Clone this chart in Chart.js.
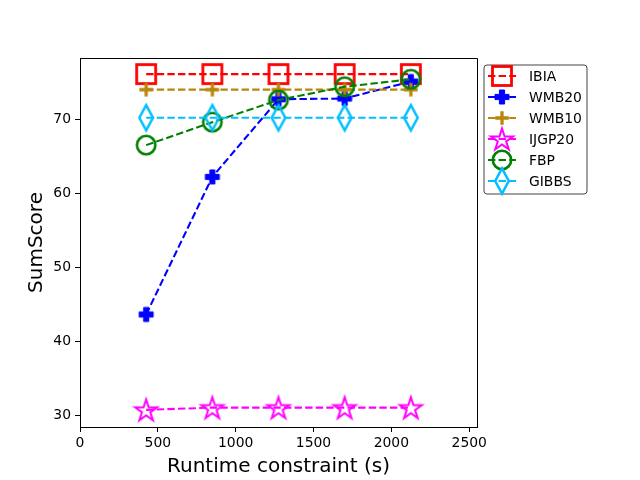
<!DOCTYPE html>
<html>
<head>
<meta charset="utf-8">
<script src="https://cdn.jsdelivr.net/npm/chart.js@4.4.0/dist/chart.umd.min.js"></script>
<style>
html,body{margin:0;padding:0;background:#fff;}
#wrap{width:640px;height:480px;}
</style>
</head>
<body>
<div id="wrap"><canvas id="c" width="640" height="480"></canvas></div>
<script>
// ---- data ----
const runtimes = [425, 850, 1275, 1700, 2125];
const seriesNames = ["IBIA", "WMB20", "WMB10", "IJGP20", "FBP", "GIBBS"];
const ibia   = [76.1, 76.1, 76.1, 76.1, 76.1];
const wmb20  = [43.6, 62.2, 72.7, 72.8, 75.1];
const wmb10  = [74.0, 74.0, 74.0, 74.0, 74.0];
const ijgp20 = [30.7, 31.0, 31.0, 31.0, 31.0];
const fbp    = [66.5, 69.6, 72.6, 74.4, 75.4];
const gibbs  = [70.2, 70.2, 70.2, 70.2, 70.2];
const xTicks = [0, 500, 1000, 1500, 2000, 2500];
const yTicks = [30, 40, 50, 60, 70];

// ---- marker styles ----
function mk(size, draw) {
  const c = document.createElement('canvas');
  c.width = size; c.height = size;
  const g = c.getContext('2d');
  g.translate(size / 2, size / 2);
  draw(g);
  return c;
}
const mSquare = mk(28, g => { g.strokeStyle = '#ff0000'; g.lineWidth = 2.8; g.strokeRect(-9.5, -9.5, 19, 19); });
const mPlusFilled = mk(22, g => {
  g.fillStyle = '#0000ff'; g.strokeStyle = '#0000ff'; g.lineWidth = 1;
  const a = 7, t = 2.6;
  g.beginPath();
  g.moveTo(-t, -a); g.lineTo(t, -a); g.lineTo(t, -t); g.lineTo(a, -t); g.lineTo(a, t); g.lineTo(t, t);
  g.lineTo(t, a); g.lineTo(-t, a); g.lineTo(-t, t); g.lineTo(-a, t); g.lineTo(-a, -t); g.lineTo(-t, -t);
  g.closePath(); g.fill(); g.stroke();
});
const mPlus = mk(20, g => {
  g.strokeStyle = '#b8860b'; g.lineWidth = 3.3; g.lineCap = 'butt';
  g.beginPath(); g.moveTo(-6.8, 0); g.lineTo(6.8, 0); g.moveTo(0, -6.8); g.lineTo(0, 6.8); g.stroke();
});
const mStar = mk(30, g => {
  g.strokeStyle = '#ff00ff'; g.lineWidth = 2; g.lineJoin = 'miter';
  const R = 11.5, r = R * 0.381966;
  g.beginPath();
  for (let i = 0; i < 10; i++) {
    const ang = -Math.PI / 2 + i * Math.PI / 5;
    const rr = i % 2 === 0 ? R : r;
    const px = rr * Math.cos(ang), py = rr * Math.sin(ang) + 1;
    if (i === 0) g.moveTo(px, py); else g.lineTo(px, py);
  }
  g.closePath(); g.stroke();
});
const mCircle = mk(26, g => { g.strokeStyle = '#008000'; g.lineWidth = 2.6; g.beginPath(); g.arc(0, 0, 9.2, 0, Math.PI * 2); g.stroke(); });
const mDiamond = mk(32, g => {
  g.strokeStyle = '#00bfff'; g.lineWidth = 2.5; g.lineJoin = 'miter';
  g.beginPath(); g.moveTo(0, -12.7); g.lineTo(6.8, 0); g.lineTo(0, 12.7); g.lineTo(-6.8, 0); g.closePath(); g.stroke();
});

const seriesValues = [ibia, wmb20, wmb10, ijgp20, fbp, gibbs];
const seriesColors = ['#ff0000', '#0000ff', '#b8860b', '#ff00ff', '#008000', '#00bfff'];
const seriesMarkers = [mSquare, mPlusFilled, mPlus, mStar, mCircle, mDiamond];
const DASH = [7.4, 3.2];

const datasets = seriesNames.map((name, i) => ({
  label: name,
  data: runtimes.map((x, j) => ({ x: x, y: seriesValues[i][j] })),
  borderColor: seriesColors[i],
  backgroundColor: seriesColors[i],
  borderWidth: 2.08,
  borderDash: DASH,
  pointStyle: seriesMarkers[i],
  pointRadius: 10,
  pointHoverRadius: 10,
  fill: false,
  tension: 0,
  order: seriesNames.length - i,
  clip: false
}));

const FONT = "'DejaVu Sans', 'Liberation Sans', sans-serif";

const spinesPlugin = {
  id: 'spines',
  afterDraw(chart) {
    const ctx = chart.ctx, ca = chart.chartArea;
    ctx.save();
    ctx.strokeStyle = '#000'; ctx.lineWidth = 1;
    ctx.beginPath();
    ctx.moveTo(ca.left, ca.top + 0.5); ctx.lineTo(ca.right + 0.5, ca.top + 0.5); ctx.lineTo(ca.right + 0.5, ca.bottom);
    ctx.stroke();
    ctx.restore();
  }
};

const legendPlugin = {
  id: 'mplLegend',
  afterDraw(chart) {
    const ctx = chart.ctx, ca = chart.chartArea;
    const bx = ca.right + 7, by = ca.top + 7, bw = 103, bh = 129, rad = 3;
    ctx.save();
    ctx.beginPath();
    ctx.moveTo(bx + rad, by);
    ctx.lineTo(bx + bw - rad, by); ctx.quadraticCurveTo(bx + bw, by, bx + bw, by + rad);
    ctx.lineTo(bx + bw, by + bh - rad); ctx.quadraticCurveTo(bx + bw, by + bh, bx + bw - rad, by + bh);
    ctx.lineTo(bx + rad, by + bh); ctx.quadraticCurveTo(bx, by + bh, bx, by + bh - rad);
    ctx.lineTo(bx, by + rad); ctx.quadraticCurveTo(bx, by, bx + rad, by);
    ctx.closePath();
    ctx.fillStyle = 'rgba(255,255,255,0.8)'; ctx.fill();
    ctx.strokeStyle = '#444'; ctx.lineWidth = 1; ctx.stroke();
    chart.data.datasets.forEach((ds, i) => {
      const cy = by + 11 + i * 21;
      const x0 = bx + 4, x1 = bx + 32;
      ctx.beginPath();
      ctx.setLineDash(DASH);
      ctx.strokeStyle = ds.borderColor; ctx.lineWidth = 2.08;
      ctx.moveTo(x0, cy); ctx.lineTo(x1, cy); ctx.stroke();
      ctx.setLineDash([]);
      const m = ds.pointStyle;
      ctx.drawImage(m, (x0 + x1) / 2 - m.width / 2, cy - m.height / 2);
      ctx.fillStyle = '#000';
      ctx.font = "13.9px " + FONT;
      ctx.textBaseline = 'middle'; ctx.textAlign = 'left';
      ctx.fillText(ds.label, bx + 45, cy + 1);
    });
    ctx.restore();
  }
};

new Chart(document.getElementById('c'), {
  type: 'line',
  data: { datasets: datasets },
  plugins: [spinesPlugin, legendPlugin],
  options: {
    responsive: false,
    animation: false,
    devicePixelRatio: 1,
    layout: { padding: { left: 0, top: 58, right: 163, bottom: 0 } },
    plugins: { legend: { display: false }, tooltip: { enabled: false } },
    scales: {
      x: {
        type: 'linear',
        min: 0, max: 2550,
        afterFit(s) { s.height = 53; },
        afterBuildTicks(s) { s.ticks = xTicks.map(v => ({ value: v })); },
        ticks: { color: '#000', font: { family: FONT, size: 13.9 }, padding: 3, maxRotation: 0, autoSkip: false, callback: v => String(v) },
        grid: { display: true, drawOnChartArea: false, drawTicks: true, tickLength: 5, tickColor: '#000', tickWidth: 1 },
        border: { display: true, color: '#000', width: 1 },
        title: { display: true, text: 'Runtime constraint (s)', color: '#000', font: { family: FONT, size: 20, lineHeight: 1.2 }, padding: { top: 0, bottom: 1 } }
      },
      y: {
        type: 'linear',
        min: 28.38, max: 78.28,
        afterFit(s) { s.width = 80; },
        afterBuildTicks(s) { s.ticks = yTicks.map(v => ({ value: v })); },
        ticks: { color: '#000', font: { family: FONT, size: 13.9 }, padding: 4, autoSkip: false, callback: v => String(v) },
        grid: { display: true, drawOnChartArea: false, drawTicks: true, tickLength: 5, tickColor: '#000', tickWidth: 1 },
        border: { display: true, color: '#000', width: 1 },
        title: { display: true, text: 'SumScore', color: '#000', font: { family: FONT, size: 20, lineHeight: 1.2 }, padding: { top: 25, bottom: 0 } }
      }
    }
  }
});
</script>
</body>
</html>
